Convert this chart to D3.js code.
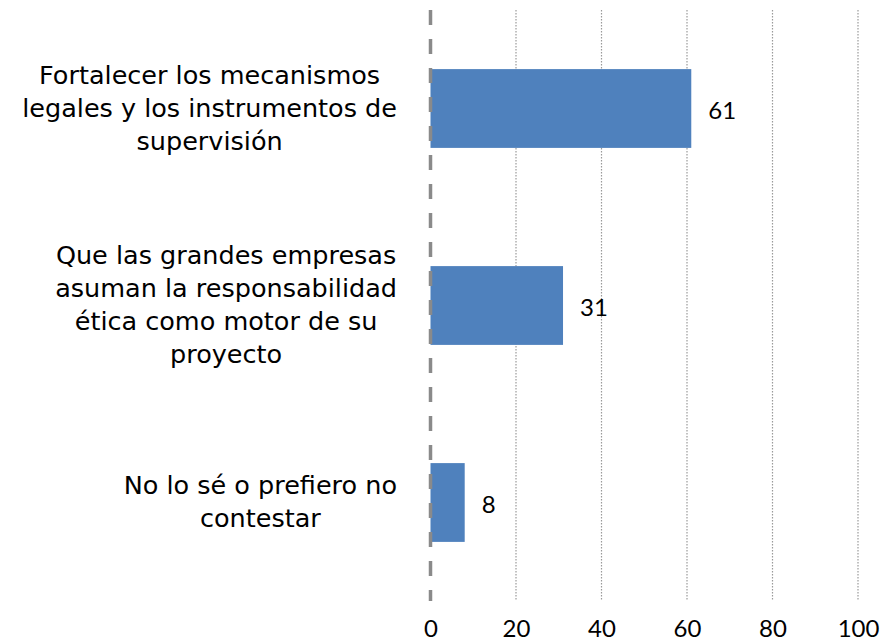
<!DOCTYPE html>
<html><head><meta charset="utf-8">
<script src="https://cdn.jsdelivr.net/npm/d3@7"></script>
<style>html,body{margin:0;padding:0;background:#fff;}</style>
</head><body>
<svg id="chart" width="880" height="643"></svg>
<script>
const categories = [
  ["Fortalecer los mecanismos", "legales y los instrumentos de", "supervisión"],
  ["Que las grandes empresas", "asuman la responsabilidad", "ética como motor de su", "proyecto"],
  ["No lo sé o prefiero no", "contestar"]
];
const values = [61, 31, 8];
const tickValues = [0, 20, 40, 60, 80, 100];

const svg = d3.select("#chart");
const x = d3.scaleLinear().domain([0, 100]).range([430.5, 858]);
const y = d3.scaleBand().domain(d3.range(categories.length)).range([10, 601]).paddingInner(0.6).paddingOuter(0.3);

const labelFont = "'DejaVu Sans', sans-serif";
const numFont = "Lato, 'Open Sans', sans-serif";

// gridlines
svg.append("g").selectAll("line").data(tickValues.slice(1)).join("line")
  .attr("x1", d => x(d)).attr("x2", d => x(d))
  .attr("y1", 10).attr("y2", 601)
  .attr("stroke", "#9a9a9a").attr("stroke-width", 1.2)
  .attr("stroke-dasharray", "1.5,1.5");

// bars
svg.append("g").selectAll("rect").data(values).join("rect")
  .attr("x", x(0)).attr("y", (d, i) => y(i))
  .attr("width", d => x(d) - x(0)).attr("height", y.bandwidth())
  .attr("fill", "#4F81BD");

// axis dashed
svg.append("line").attr("x1", x(0)).attr("x2", x(0)).attr("y1", 10).attr("y2", 601)
  .attr("stroke", "#8a8a8a").attr("stroke-width", 3.5).attr("stroke-dasharray", "15,14");

// value labels
svg.append("g").selectAll("text").data(values).join("text")
  .attr("x", d => x(d) + 17).attr("y", (d, i) => y(i) + y.bandwidth() / 2 + 10)
  .attr("font-family", numFont).attr("font-size", 24).attr("fill", "#000")
  .text(d => d);

// tick labels
const xAxis = d3.axisBottom(x).tickValues(tickValues).tickSize(0).tickPadding(0);
const ax = svg.append("g").attr("transform", "translate(0,637)").call(xAxis);
ax.select(".domain").remove();
ax.selectAll("text").attr("font-family", numFont).attr("font-size", 24).attr("fill", "#000").attr("dy", 0);

// category labels
const lh = 33;
const rightEdge = 397;
categories.forEach((lines, i) => {
  const g = svg.append("g");
  const cy = y(i) + y.bandwidth() / 2;
  const n = lines.length;
  const texts = g.selectAll("text").data(lines).join("text")
    .attr("font-family", labelFont).attr("font-size", 25.5).attr("fill", "#000")
    .attr("text-anchor", "middle")
    .attr("y", (d, k) => cy + 8 + (k - (n - 1) / 2) * lh)
    .text(d => d);
  let maxW = 0;
  texts.each(function () { maxW = Math.max(maxW, this.getComputedTextLength()); });
  texts.attr("x", rightEdge - maxW / 2);
});
</script>
</body></html>
